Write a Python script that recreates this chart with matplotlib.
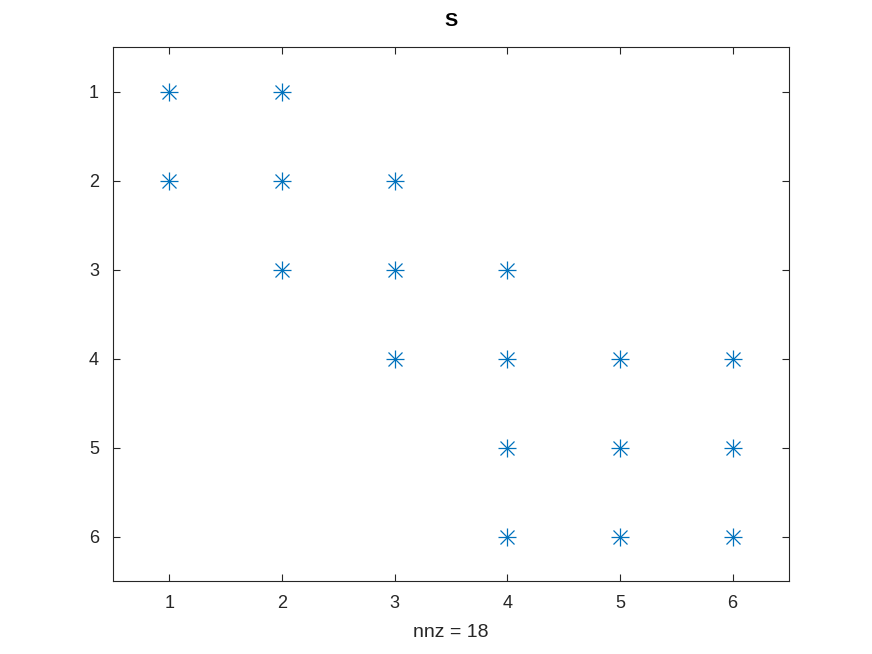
import numpy as np
import matplotlib
matplotlib.use("Agg")
import matplotlib.pyplot as plt

plt.rcParams['font.family'] = ['Liberation Sans', 'DejaVu Sans']

# nonzero entries of S (column, row)
cols = [1, 1, 2, 2, 2, 3, 3, 3, 4, 4, 4, 4, 5, 5, 5, 6, 6, 6]
rows = [1, 2, 1, 2, 3, 2, 3, 4, 3, 4, 5, 6, 4, 5, 6, 4, 5, 6]
ticks = [1, 2, 3, 4, 5, 6]

fig = plt.figure(figsize=(8.72, 6.54), dpi=100)
ax = fig.add_axes([0.1296, 0.1116, 0.7752, 0.8165])

# matlab style asterisk = plus + cross
ax.plot(cols, rows, linestyle='none', marker='+', color='#0072BD',
        markersize=13, markeredgewidth=0.9)
ax.plot(cols, rows, linestyle='none', marker='x', color='#0072BD',
        markersize=9.5, markeredgewidth=0.9)

ax.set_xlim(0.5, 6.5)
ax.set_ylim(6.5, 0.5)
ax.set_xticks(ticks)
ax.set_yticks(ticks)
ax.tick_params(direction='in', top=True, right=True, length=5, width=0.8,
               labelsize=13, colors='#262626', pad=10)
for s in ax.spines.values():
    s.set_linewidth(0.8)
    s.set_color('#262626')

ax.set_title('S', fontsize=14, fontweight='bold', pad=15)
ax.set_xlabel('nnz = 18', fontsize=14, color='#262626', labelpad=9)

fig.savefig('out.png', dpi=100)
